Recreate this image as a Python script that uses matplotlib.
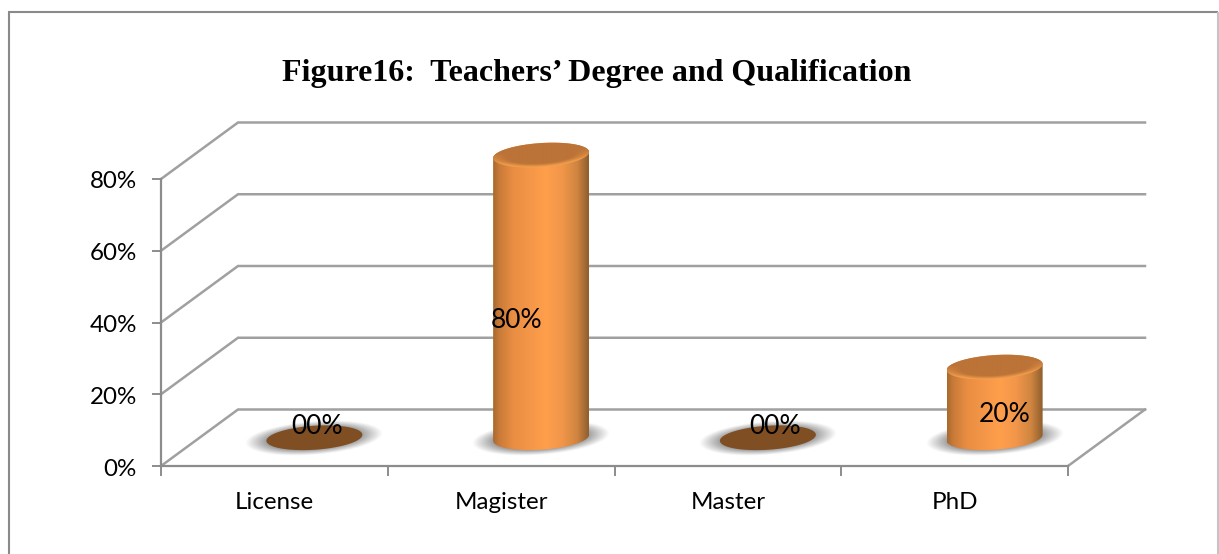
import numpy as np
import matplotlib
matplotlib.use("Agg")
import matplotlib.pyplot as plt
from matplotlib.lines import Line2D
from matplotlib.patches import Polygon
from matplotlib.colors import to_rgb
from matplotlib.transforms import ScaledTranslation

categories = ["License", "Magister", "Master", "PhD"]
values = [0, 80, 0, 20]
value_labels = ["00%", "80%", "00%", "20%"]
y_ticks = [0, 20, 40, 60, 80]
y_tick_labels = ["0%", "20%", "40%", "60%", "80%"]
title = "Figure16:  Teachers\u2019 Degree and Qualification"

W, H = 1219, 554
X0, X1, Y0, Y80 = 161.0, 1068.0, 466.0, 179.0      # pixel frame of the front plane
PX_X = 4 / (X1 - X0)                                 # data units per pixel
PX_Y = 80 / (Y0 - Y80)
DEPTH_X, DEPTH_Y = 77 * PX_X, 56.5 * PX_Y            # 3-D depth offset
BAR_SCALE = 0.985
A, B, SHEAR = 48.0, 12.0, 3.0                        # ellipse shape in pixels
GRID = "#a0a0a0"
AXIS = "#8c8c8c"

fig = plt.figure(figsize=(W / 100, H / 100), dpi=100, facecolor="white")
ax = fig.add_axes([0, 0, 1, 1], facecolor="none")
xlim = (-X0 * PX_X, (W - X0) * PX_X)
ylim = ((Y0 - H) * PX_Y, Y0 * PX_Y)


def ellipse(cx, cy, n=120):
    t = np.linspace(0, 2 * np.pi, n)
    return (cx + A * PX_X * np.cos(t),
            cy + (B * np.sin(t) + SHEAR * np.cos(t)) * PX_Y)


def lerp_colors(stops, n):
    pos = [s[0] for s in stops]
    cols = np.array([to_rgb(s[1]) for s in stops])
    u = np.linspace(0, 1, n)
    return np.stack([np.interp(u, pos, cols[:, i]) for i in range(3)], axis=-1)


def shadow(cx, cy):
    ax_px, by_px = 69.0, 17.0
    xs = np.linspace(-ax_px, ax_px, 160)
    ys = np.linspace(-by_px - 8, by_px + 8, 80)
    gx, gy = np.meshgrid(xs, ys)
    yy = gy - 5.0 * gx / ax_px
    r = np.sqrt((gx / ax_px) ** 2 + (yy / by_px) ** 2)
    alpha = np.clip((1.0 - r) / 0.4, 0, 1) * 0.95
    img = np.zeros(gx.shape + (4,))
    img[..., :3] = to_rgb("#7c7c7c")
    img[..., 3] = alpha
    ax.imshow(img, extent=(cx + xs[0] * PX_X, cx + xs[-1] * PX_X,
                           cy + ys[0] * PX_Y, cy + ys[-1] * PX_Y),
              origin="lower", aspect="auto", zorder=3, interpolation="bilinear")


def cylinder(cx, base, value):
    top = base + value * BAR_SCALE
    ex, ey = ellipse(cx, top)
    if value == 0:
        ax.fill(ex, ey, color="#7f4e23", lw=0, zorder=4)
        return
    # body
    t = np.linspace(np.pi, 2 * np.pi, 60)
    low_x = cx + A * PX_X * np.cos(t)
    low_y = base + (B * np.sin(t) + SHEAR * np.cos(t)) * PX_Y
    t2 = np.linspace(0, np.pi, 60)
    up_x = cx + A * PX_X * np.cos(t2)
    up_y = top + (B * np.sin(t2) + SHEAR * np.cos(t2)) * PX_Y
    verts = np.column_stack([np.r_[low_x, up_x], np.r_[low_y, up_y]])
    clip = Polygon(verts, closed=True, transform=ax.transData, fc="none", ec="none")
    ax.add_patch(clip)
    grad = lerp_colors([(0, "#a9692f"), (0.06, "#c87a38"), (0.2, "#e88d42"),
                        (0.55, "#ff9f4c"), (0.72, "#f2964a"), (0.88, "#cf8540"),
                        (1, "#8f5f2e")], 128)[None, :, :]
    im = ax.imshow(grad, extent=(cx - A * PX_X, cx + A * PX_X, base - 16 * PX_Y, top + 18 * PX_Y),
                   aspect="auto", zorder=4, interpolation="bilinear")
    im.set_clip_path(clip)
    # cap
    cap = Polygon(np.column_stack([ex, ey]), closed=True, transform=ax.transData,
                  fc="none", ec="none")
    ax.add_patch(cap)
    xs = np.linspace(-1, 1, 200)
    ys = np.linspace(-1, 1, 60)
    gx, gy = np.meshgrid(xs, ys)
    yy = (gy * (B + SHEAR) - SHEAR * gx) / B
    r = np.sqrt(gx ** 2 + yy ** 2)
    base_c = np.array(to_rgb("#bc7337"))
    rim_c = np.array(to_rgb("#f6a24e"))
    w = np.clip((r - 0.72) / 0.28, 0, 1) * np.clip(0.35 - yy, 0, 1)
    img = base_c[None, None, :] * (1 - w[..., None]) + rim_c[None, None, :] * w[..., None]
    im2 = ax.imshow(img, origin="lower",
                    extent=(cx - A * PX_X, cx + A * PX_X,
                            top - (B + SHEAR) * PX_Y, top + (B + SHEAR) * PX_Y),
                    aspect="auto", zorder=5, interpolation="bilinear")
    im2.set_clip_path(cap)


# wall and floor lines
for v in y_ticks:
    ax.plot([0, DEPTH_X, 4 + DEPTH_X], [v, v + DEPTH_Y, v + DEPTH_Y],
            color=GRID, lw=1.8, solid_joinstyle="miter", zorder=1)
ax.plot([4, 4 + DEPTH_X], [0, DEPTH_Y], color=GRID, lw=1.8, zorder=1)

# cylinders
base_y = DEPTH_Y / 2
bar_shift = 1.5 * PX_X
label_offsets = [(3, 11), (-25, -24), (7, 11), (10, -12)]   # pixels from the bar centre
for i, v in enumerate(values):
    cx = i + 0.5 + DEPTH_X / 2 + bar_shift
    shadow(cx, base_y)
    cylinder(cx, base_y, v)
    ox, oy = label_offsets[i]
    ax.text(cx + ox * PX_X, base_y + v * BAR_SCALE / 2 + oy * PX_Y, value_labels[i],
            ha="center", va="center", family="Lato", fontsize=19, color="black", zorder=8)

# axes
ax.set_xlim(*xlim)
ax.set_ylim(*ylim)
for s in ("top", "right"):
    ax.spines[s].set_visible(False)
ax.spines["left"].set_position(("data", 0))
ax.spines["left"].set_bounds(0, 80)
ax.spines["bottom"].set_position(("data", 0))
ax.spines["bottom"].set_bounds(0, 4)
for s in ("left", "bottom"):
    ax.spines[s].set_color(AXIS)
    ax.spines[s].set_linewidth(1.6)
    ax.spines[s].set_zorder(2)
ax.set_yticks(y_ticks, y_tick_labels, family="Lato", fontsize=17.4, va="center")
ax.set_xticks(range(5), [""] * 5)
ax.set_xticks([i + 0.5 for i in range(4)], categories, minor=True, family="Lato", fontsize=17.4)
ax.tick_params(axis="y", length=6.5, width=1.4, color=AXIS, pad=11)
ax.tick_params(axis="x", which="major", length=7, width=1.4, color=AXIS)
ax.tick_params(axis="x", which="minor", length=0, pad=19)
shift = ScaledTranslation(0, -3 / 100, fig.dpi_scale_trans)
for lab in ax.get_yticklabels():
    lab.set_transform(lab.get_transform() + shift)

ax.text(597 * PX_X + xlim[0], (H - 73) * PX_Y + ylim[0], title, ha="center", va="center",
        family="Liberation Serif", weight="bold", fontsize=23, color="black", zorder=9)

# outer frame
def px_line(x, y, color, lw):
    fig.add_artist(Line2D(np.array(x) / W, 1 - np.array(y) / H, color=color, lw=lw,
                          transform=fig.transFigure, solid_capstyle="butt"))

px_line([8.5, 8.5], [11, 554], "#8a8a8a", 1.5)
px_line([8, 1218], [12, 12], "#8a8a8a", 1.5)
px_line([1218, 1218], [12, 554], "#c4c4c4", 1.5)

fig.savefig("out.png", dpi=100)
